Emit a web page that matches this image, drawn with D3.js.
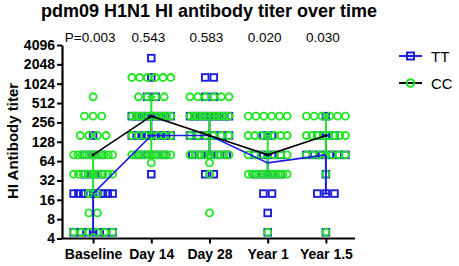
<!DOCTYPE html>
<html>
<head>
<meta charset="utf-8">
<script src="https://cdn.jsdelivr.net/npm/d3@7"></script>
<style>
    body { margin: 0; background: #fff; }
    svg { display: block; font-family: "Liberation Sans", Arial, sans-serif; }
</style>
</head>
<body>
<div id="chart"></div>
<script>
(function () {
    // categories and labels
    var times = ["Baseline", "Day 14", "Day 28", "Year 1", "Year 1.5"];
    var pLabels = ["P=0.003", "0.543", "0.583", "0.020", "0.030"];
    var titerTicks = [4, 8, 16, 32, 64, 128, 256, 512, 1024, 2048, 4096];

    // individual titers, as [titer, count] per time point
    var ttPoints = [
        [[5, 7], [20, 9], [40, 3], [80, 3], [160, 1]],
        [[40, 1], [80, 4], [160, 9], [320, 9], [640, 2], [1280, 1], [2560, 1]],
        [[40, 2], [80, 5], [160, 6], [320, 9], [640, 2], [1280, 2]],
        [[5, 1], [10, 1], [20, 2], [40, 4], [80, 4], [160, 2]],
        [[5, 1], [20, 3], [40, 1], [80, 6], [160, 3], [320, 1]]
    ];
    var ccPoints = [
        [[5, 6], [10, 2], [20, 2], [40, 9], [80, 10], [160, 4], [320, 3], [640, 1]],
        [[60, 1], [80, 10], [160, 7], [320, 10], [640, 4], [1280, 6]],
        [[10, 1], [40, 1], [60, 1], [80, 9], [160, 6], [320, 10], [640, 6]],
        [[5, 1], [40, 10], [80, 7], [160, 7], [320, 6]],
        [[5, 1], [40, 1], [80, 7], [160, 8], [320, 6]]
    ];

    // median with interquartile range
    var ttMedian = [20, 160, 160, 60, 80];
    var ttLow = [5, 160, 80, 40, 20];
    var ttHigh = [20, 320, 320, 80, 160];
    var ccMedian = [80, 320, 160, 80, 160];
    var ccLow = [20, 80, 80, 40, 80];
    var ccHigh = [80, 640, 320, 160, 320];

    const width = 459, height = 266;
    const green = "#22e622", blue = "#1c1ce0";
    const spacing = 8.6, maxSpan = 39;

    var svg = d3.select("#chart").append("svg")
        .attr("width", width)
        .attr("height", height);

    var x = d3.scalePoint().domain(times).range([64, 355]).padding(0.5);
    var y = d3.scaleLog().base(2).domain([4, 4096]).range([238.5, 45]);

    // title
    svg.append("text")
        .attr("x", 209).attr("y", 17)
        .attr("text-anchor", "middle")
        .attr("font-size", 18).attr("font-weight", "bold")
        .text("pdm09 H1N1 HI antibody titer over time");

    // p values
    svg.selectAll(".pval").data(pLabels)
        .enter().append("text")
        .attr("class", "pval")
        .attr("x", function (d, i) { return x(times[i]) - 3; })
        .attr("y", 42)
        .attr("text-anchor", "middle")
        .attr("font-size", 13.5)
        .text(function (d) { return d; });

    // axes
    var yAxis = d3.axisLeft(y).tickValues(titerTicks).tickFormat(d3.format("d"))
        .tickSize(5).tickSizeOuter(0).tickPadding(2);
    var gy = svg.append("g").attr("transform", "translate(62,0)").call(yAxis);

    var xAxis = d3.axisBottom(x).tickSize(5).tickSizeOuter(0).tickPadding(6);
    var gx = svg.append("g").attr("transform", "translate(0,238.5)").call(xAxis);
    gx.select(".domain").attr("d", "M61,0H355");

    [gy, gx].forEach(function (g) {
        g.select(".domain").attr("stroke", "#000").attr("stroke-width", 2.2);
        g.selectAll(".tick line").attr("stroke", "#000").attr("stroke-width", 2);
        g.selectAll(".tick text").attr("fill", "#000")
            .attr("font-size", 14).attr("font-weight", "bold")
            .attr("font-family", "Liberation Sans, Arial, sans-serif");
    });

    svg.append("text")
        .attr("transform", "translate(18,141) rotate(-90)")
        .attr("text-anchor", "middle")
        .attr("font-size", 15).attr("font-weight", "bold")
        .text("HI Antibody titer");

    // spread points of one row across the column
    function spread(groups) {
        var out = [];
        groups.forEach(function (rows, ti) {
            rows.forEach(function (r) {
                var n = r[1];
                var span = n > 1 ? Math.min((n - 1) * spacing, maxSpan) : 0;
                for (var k = 0; k < n; k++) {
                    var off = n > 1 ? -span / 2 + k * span / (n - 1) : 0;
                    out.push({ cx: x(times[ti]) + off, cy: y(r[0]) });
                }
            });
        });
        return out;
    }

    var pts = svg.append("g");
    pts.selectAll("rect").data(spread(ttPoints))
        .enter().append("rect")
        .attr("x", function (d) { return d.cx - 3.3; })
        .attr("y", function (d) { return d.cy - 3.3; })
        .attr("width", 6.6).attr("height", 6.6)
        .attr("fill", "none").attr("stroke", blue).attr("stroke-width", 1.9);

    pts.selectAll("circle").data(spread(ccPoints))
        .enter().append("circle")
        .attr("cx", function (d) { return d.cx; })
        .attr("cy", function (d) { return d.cy; })
        .attr("r", 3.5)
        .attr("fill", "none").attr("stroke", green).attr("stroke-width", 1.9);

    // error bars
    function errorBars(low, high, color) {
        var g = svg.append("g").attr("stroke", color).attr("stroke-width", 2);
        times.forEach(function (t, i) {
            var cx = x(t);
            g.append("line").attr("x1", cx).attr("x2", cx)
                .attr("y1", y(low[i])).attr("y2", y(high[i]));
            [low[i], high[i]].forEach(function (v) {
                g.append("line").attr("x1", cx - 4).attr("x2", cx + 4)
                    .attr("y1", y(v)).attr("y2", y(v));
            });
        });
    }
    errorBars(ttLow, ttHigh, blue);
    errorBars(ccLow, ccHigh, green);

    // median lines
    var line = d3.line()
        .x(function (d, i) { return x(times[i]); })
        .y(function (d) { return y(d); });

    svg.append("path").datum(ttMedian)
        .attr("d", line).attr("fill", "none")
        .attr("stroke", blue).attr("stroke-width", 1.6);
    svg.append("path").datum(ccMedian)
        .attr("d", line).attr("fill", "none")
        .attr("stroke", "#000").attr("stroke-width", 1.6);

    svg.selectAll(".ccmed").data(ccMedian)
        .enter().append("circle")
        .attr("class", "ccmed")
        .attr("cx", function (d, i) { return x(times[i]); })
        .attr("cy", function (d) { return y(d); })
        .attr("r", 1.6).attr("fill", "#000");

    // legend
    var legend = svg.append("g");
    var items = [
        { name: "TT", color: blue, line: blue, y: 56 },
        { name: "CC", color: green, line: "#000", y: 83 }
    ];
    items.forEach(function (d) {
        legend.append("line")
            .attr("x1", 399).attr("x2", 422)
            .attr("y1", d.y).attr("y2", d.y)
            .attr("stroke", d.line).attr("stroke-width", 2);
        if (d.name === "TT") {
            legend.append("rect")
                .attr("x", 410.5 - 3.5).attr("y", d.y - 3.5)
                .attr("width", 7).attr("height", 7)
                .attr("fill", "none").attr("stroke", d.color).attr("stroke-width", 2);
        } else {
            legend.append("circle")
                .attr("cx", 410.5).attr("cy", d.y).attr("r", 3.8)
                .attr("fill", "none").attr("stroke", d.color).attr("stroke-width", 2);
        }
        legend.append("text")
            .attr("x", 431).attr("y", d.y + 5.5)
            .attr("font-size", 15)
            .text(d.name);
    });
})();
</script>
</body>
</html>
